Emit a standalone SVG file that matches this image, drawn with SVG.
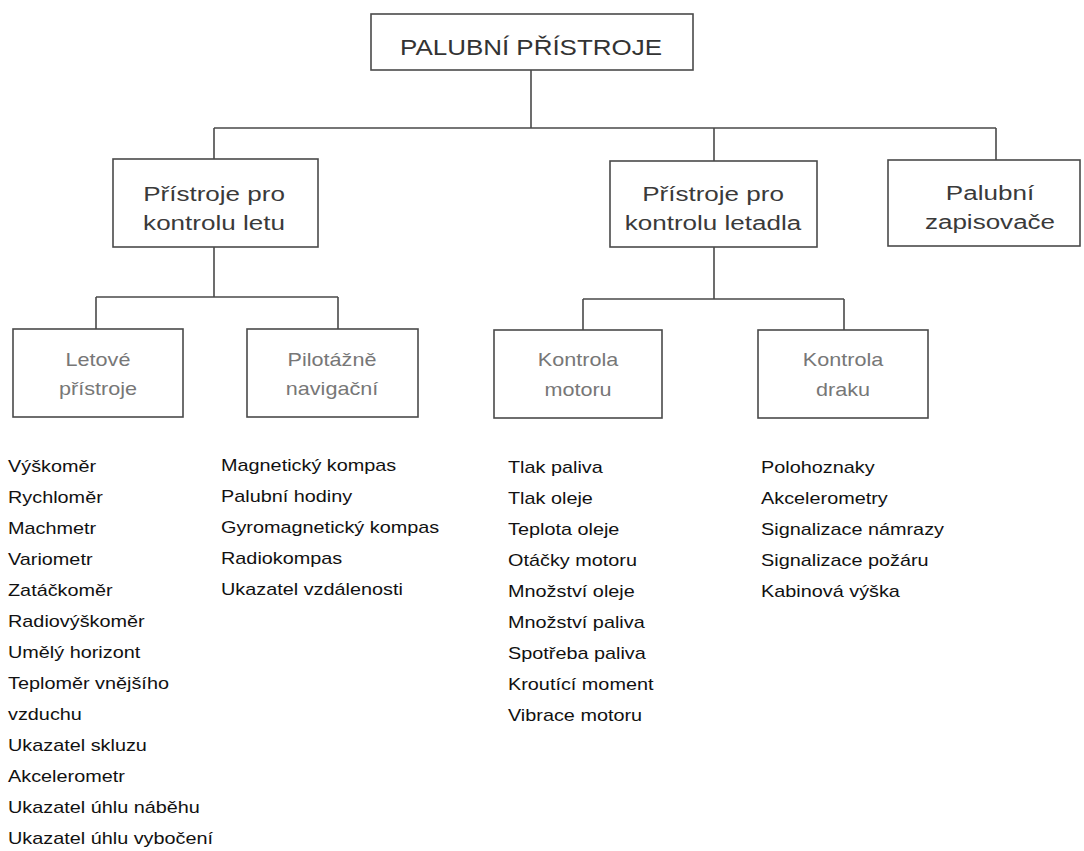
<svg xmlns="http://www.w3.org/2000/svg" width="1084" height="851" viewBox="0 0 1084 851">
<style>
.box{fill:#fff;stroke:#4a4a4a;stroke-width:1.6}
.con{fill:none;stroke:#4a4a4a;stroke-width:1.6}
.t1{font-family:"Liberation Sans",Arial,sans-serif;font-size:22px;fill:#333;text-anchor:middle}
.t2{font-family:"Liberation Sans",Arial,sans-serif;font-size:21px;fill:#3a3a3a;text-anchor:middle}
.t3{font-family:"Liberation Sans",Arial,sans-serif;font-size:18px;fill:#777;text-anchor:middle}
.li{font-family:"Liberation Sans",Arial,sans-serif;font-size:16px;fill:#111}
</style>
<rect width="1084" height="851" fill="#fff"/>
<g id="connectors">
<path class="con" d="M531 70V128M214 128H996M214 128V159M714 128V161M996 128V160"/>
<path class="con" d="M214 247V297M96 297H338M96 297V329M338 297V329"/>
<path class="con" d="M714 247V299M583 299H844M583 299V330M844 299V330"/>
</g>
<g id="root">
<rect class="box" x="371" y="14" width="322" height="56"/>
<text class="t1" transform="translate(531,55) scale(1.18,1)">PALUBNÍ PŘÍSTROJE</text>
</g>
<g id="let">
<rect class="box" x="113" y="159" width="205" height="88"/>
<text class="t2" transform="translate(214,201) scale(1.24,1)">Přístroje pro</text>
<text class="t2" transform="translate(214,230) scale(1.24,1)">kontrolu letu</text>
</g>
<g id="letadlo">
<rect class="box" x="610" y="161" width="207" height="86"/>
<text class="t2" transform="translate(713,201) scale(1.24,1)">Přístroje pro</text>
<text class="t2" transform="translate(713,230) scale(1.24,1)">kontrolu letadla</text>
</g>
<g id="zapisovace">
<rect class="box" x="888" y="160" width="192" height="86"/>
<text class="t2" transform="translate(990,200) scale(1.24,1)">Palubní</text>
<text class="t2" transform="translate(990,229) scale(1.24,1)">zapisovače</text>
</g>
<g id="letove">
<rect class="box" x="13" y="329" width="170" height="88"/>
<text class="t3" transform="translate(98,366) scale(1.2,1)">Letové</text>
<text class="t3" transform="translate(98,395) scale(1.2,1)">přístroje</text>
</g>
<g id="pilotazne">
<rect class="box" x="247" y="329" width="171" height="88"/>
<text class="t3" transform="translate(332,366) scale(1.2,1)">Pilotážně</text>
<text class="t3" transform="translate(332,395) scale(1.2,1)">navigační</text>
</g>
<g id="motor">
<rect class="box" x="494" y="330" width="168" height="88"/>
<text class="t3" transform="translate(578,366) scale(1.2,1)">Kontrola</text>
<text class="t3" transform="translate(578,396) scale(1.2,1)">motoru</text>
</g>
<g id="drak">
<rect class="box" x="758" y="330" width="170" height="88"/>
<text class="t3" transform="translate(843,366) scale(1.2,1)">Kontrola</text>
<text class="t3" transform="translate(843,396) scale(1.2,1)">draku</text>
</g>
<g id="list-letove" transform="translate(8,0) scale(1.24,1)">
<text class="li" x="0" y="472">Výškoměr</text>
<text class="li" x="0" y="503">Rychloměr</text>
<text class="li" x="0" y="534">Machmetr</text>
<text class="li" x="0" y="565">Variometr</text>
<text class="li" x="0" y="596">Zatáčkoměr</text>
<text class="li" x="0" y="627">Radiovýškoměr</text>
<text class="li" x="0" y="658">Umělý horizont</text>
<text class="li" x="0" y="689">Teploměr vnějšího</text>
<text class="li" x="0" y="720">vzduchu</text>
<text class="li" x="0" y="751">Ukazatel skluzu</text>
<text class="li" x="0" y="782">Akcelerometr</text>
<text class="li" x="0" y="813">Ukazatel úhlu náběhu</text>
<text class="li" x="0" y="844">Ukazatel úhlu vybočení</text>
</g>
<g id="list-pilotazne" transform="translate(221,0) scale(1.24,1)">
<text class="li" x="0" y="471">Magnetický kompas</text>
<text class="li" x="0" y="502">Palubní hodiny</text>
<text class="li" x="0" y="533">Gyromagnetický kompas</text>
<text class="li" x="0" y="564">Radiokompas</text>
<text class="li" x="0" y="595">Ukazatel vzdálenosti</text>
</g>
<g id="list-motor" transform="translate(508,0) scale(1.24,1)">
<text class="li" x="0" y="473">Tlak paliva</text>
<text class="li" x="0" y="504">Tlak oleje</text>
<text class="li" x="0" y="535">Teplota oleje</text>
<text class="li" x="0" y="566">Otáčky motoru</text>
<text class="li" x="0" y="597">Množství oleje</text>
<text class="li" x="0" y="628">Množství paliva</text>
<text class="li" x="0" y="659">Spotřeba paliva</text>
<text class="li" x="0" y="690">Kroutící moment</text>
<text class="li" x="0" y="721">Vibrace motoru</text>
</g>
<g id="list-drak" transform="translate(761,0) scale(1.24,1)">
<text class="li" x="0" y="473">Polohoznaky</text>
<text class="li" x="0" y="504">Akcelerometry</text>
<text class="li" x="0" y="535">Signalizace námrazy</text>
<text class="li" x="0" y="566">Signalizace požáru</text>
<text class="li" x="0" y="597">Kabinová výška</text>
</g>
</svg>
